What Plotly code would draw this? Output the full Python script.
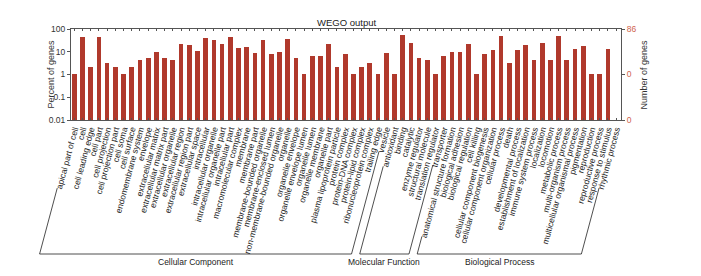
import math
import plotly.graph_objects as go

# ---------------- data ----------------
cc_terms = ["apical part of cell", "cell", "cell leading edge", "cell part", "cell projection",
            "cell projection part", "cell soma", "cell surface", "endomembrane system", "envelope",
            "extracellular matrix", "extracellular matrix part", "extracellular organelle",
            "extracellular region", "extracellular region part", "extracellular space",
            "intracellular", "intracellular organelle", "intracellular organelle part",
            "intracellular part", "macromolecular complex", "membrane", "membrane part",
            "membrane-bounded organelle", "membrane-enclosed lumen", "non-membrane-bounded organelle",
            "organelle", "organelle envelope", "organelle envelope lumen", "organelle lumen",
            "organelle membrane", "organelle part", "plasma lipoprotein particle", "protein complex",
            "protein-DNA complex", "protein-lipid complex", "ribonucleoprotein complex",
            "trailing edge", "vesicle"]
cc_pct = [1.1, 45, 2.2, 45, 3.3, 2.2, 1.1, 2.2, 4.4, 5.5,
          10, 5.5, 4.4, 23, 19.5, 11, 41, 32, 21, 43,
          14, 16.5, 8.9, 32, 7.8, 9.8, 36, 5.5, 1.1, 6.8,
          6.8, 21, 2.2, 7.8, 1.1, 2.2, 3.3, 1.1, 8.9]

mf_terms = ["antioxidant", "binding", "catalytic", "enzyme regulator", "structural molecule",
            "translation regulator", "transporter"]
mf_pct = [1.1, 54, 25, 5.5, 4.2, 1.1, 6.6]

bp_terms = ["anatomical structure formation", "biological adhesion", "biological regulation",
            "cell killing", "cellular component biogenesis", "cellular component organization",
            "cellular process", "death", "developmental process", "establishment of localization",
            "immune system process", "localization", "locomotion", "metabolic process",
            "multi-organism process", "multicellular organismal process", "pigmentation",
            "reproduction", "reproductive process", "response to stimulus", "rhythmic process"]
bp_pct = [9.8, 9.8, 23, 1.1, 7.8, 12.5, 50, 3.2, 12.5, 20.8,
          4.2, 24.6, 4.2, 48, 4.2, 13.9, 18, 1.1, 1.1, 13.9, None]

group_names = ["Cellular Component", "Molecular Function", "Biological Process"]

pct_tickvals = [0.01, 0.1, 1, 10, 100]
pct_ticktext = ["0.01", "0.1", "1", "10", "100"]
gene_tickvals = [0.01, 1, 100]
gene_ticktext = ["0", "0", "86"]

# ---------------- build ----------------
terms = cc_terms + mf_terms + bp_terms
pct = cc_pct + mf_pct + bp_pct
n = len(terms)
xs = list(range(n))

W, H = 701, 276
ML, MR, MT, MB = 71, 80, 29, 156
PW, PH = W - ML - MR, H - MT - MB
FONT = "Liberation Sans, Arial, sans-serif"
BAR = "#b0392c"
AX = "#555555"
TXT = "#333333"
RED = "#d0634c"
X0, X1 = -0.4, n - 0.4
ANG = 75.0
FS = 8.5


def px_x(k):
    return ML + (k - X0) / (X1 - X0) * PW


def to_paper(px, py):
    return (px - ML) / PW, (MT + PH - py) / PH


def text_w(s, fs=FS):
    w = 0.0
    for ch in s:
        if ch in "ijl":
            w += 0.22
        elif ch in "ftr -I":
            w += 0.29
        elif ch in "mw":
            w += 0.83
        elif ch in "DN":
            w += 0.72
        elif ch in "cksvxyz":
            w += 0.5
        else:
            w += 0.556
    return w * fs


fig = go.Figure()
fig.add_trace(go.Bar(x=xs, y=pct, width=0.57, marker=dict(color=BAR, line=dict(width=0)),
                     showlegend=False, hoverinfo="x+y"))
# invisible trace to activate the right axis
fig.add_trace(go.Scatter(x=[xs[0]], y=[1], yaxis="y2", mode="markers",
                         marker=dict(opacity=0), showlegend=False, hoverinfo="skip"))

shapes = []
annotations = []

# group brackets
bounds = [(0, len(cc_terms) - 1),
          (len(cc_terms), len(cc_terms) + len(mf_terms) - 1),
          (len(cc_terms) + len(mf_terms), n - 1)]
y_lab = MT + PH + 4.5
y_line = 254
c, s = math.cos(math.radians(ANG)), math.sin(math.radians(ANG))
for name, (i0, i1) in zip(group_names, bounds):
    corners = []
    for k in (i0, i1):
        L = text_w(terms[k]) + 2
        sx, sy = px_x(k) - L * c, y_lab + L * s
        cx = px_x(k) - (y_line - y_lab) / math.tan(math.radians(ANG))
        corners.append(cx)
        a = to_paper(sx, sy)
        b = to_paper(cx, y_line)
        shapes.append(dict(type="line", xref="paper", yref="paper", x0=a[0], y0=a[1],
                           x1=b[0], y1=b[1], line=dict(color="#222", width=0.8)))
    a = to_paper(corners[0], y_line)
    b = to_paper(corners[1], y_line)
    shapes.append(dict(type="line", xref="paper", yref="paper", x0=a[0], y0=a[1],
                       x1=b[0], y1=b[1], line=dict(color="#222", width=0.8)))
    m = to_paper((corners[0] + corners[1]) / 2, 262)
    annotations.append(dict(text=name, xref="paper", yref="paper", x=m[0], y=m[1],
                            xanchor="center", yanchor="middle", showarrow=False,
                            font=dict(size=8.5, color="#222", family=FONT)))

# titles
t = to_paper((ML + ML + PW) / 2, 22)
annotations.append(dict(text="WEGO output", xref="paper", yref="paper", x=t[0], y=t[1],
                        xanchor="center", yanchor="middle", showarrow=False,
                        font=dict(size=9.5, color="#222", family=FONT)))
t = to_paper(50, MT + PH / 2)
annotations.append(dict(text="Percent of genes", xref="paper", yref="paper", x=t[0], y=t[1],
                        textangle=-90, xanchor="center", yanchor="middle", showarrow=False,
                        font=dict(size=9, color=TXT, family=FONT)))
t = to_paper(643, MT + PH / 2)
annotations.append(dict(text="Number of genes", xref="paper", yref="paper", x=t[0], y=t[1],
                        textangle=-90, xanchor="center", yanchor="middle", showarrow=False,
                        font=dict(size=9, color=TXT, family=FONT)))

fig.update_layout(
    width=W, height=H,
    margin=dict(l=ML, r=MR, t=MT, b=MB, autoexpand=False),
    paper_bgcolor="white", plot_bgcolor="white",
    font=dict(family=FONT, color=TXT),
    bargap=0,
    xaxis=dict(range=[X0, X1], tickmode="array", tickvals=xs, ticktext=terms,
               tickangle=-ANG, tickfont=dict(size=FS, color="#222", family=FONT),
               ticks="inside", ticklen=2, tickcolor=AX, showline=True, linecolor=AX,
               linewidth=1, mirror="ticks", showgrid=False, zeroline=False, fixedrange=True),
    yaxis=dict(type="log", range=[-2, 2], tickmode="array", tickvals=pct_tickvals,
               ticktext=pct_ticktext, ticks="outside", ticklen=3, tickcolor=AX,
               tickfont=dict(size=8.5, color=TXT, family=FONT), showline=True, linecolor=AX,
               linewidth=1, showgrid=False, zeroline=False, fixedrange=True),
    yaxis2=dict(type="log", range=[-2, 2], overlaying="y", side="right", tickmode="array",
                tickvals=gene_tickvals, ticktext=gene_ticktext, ticks="outside", ticklen=3,
                tickcolor=AX, tickfont=dict(size=8.5, color=RED, family=FONT), showline=True,
                linecolor=AX, linewidth=1, showgrid=False, zeroline=False, fixedrange=True),
    shapes=shapes,
    annotations=annotations,
)

fig.write_html("out.html", config={"displayModeBar": False},
               post_script="document.body.style.margin='0px';")
